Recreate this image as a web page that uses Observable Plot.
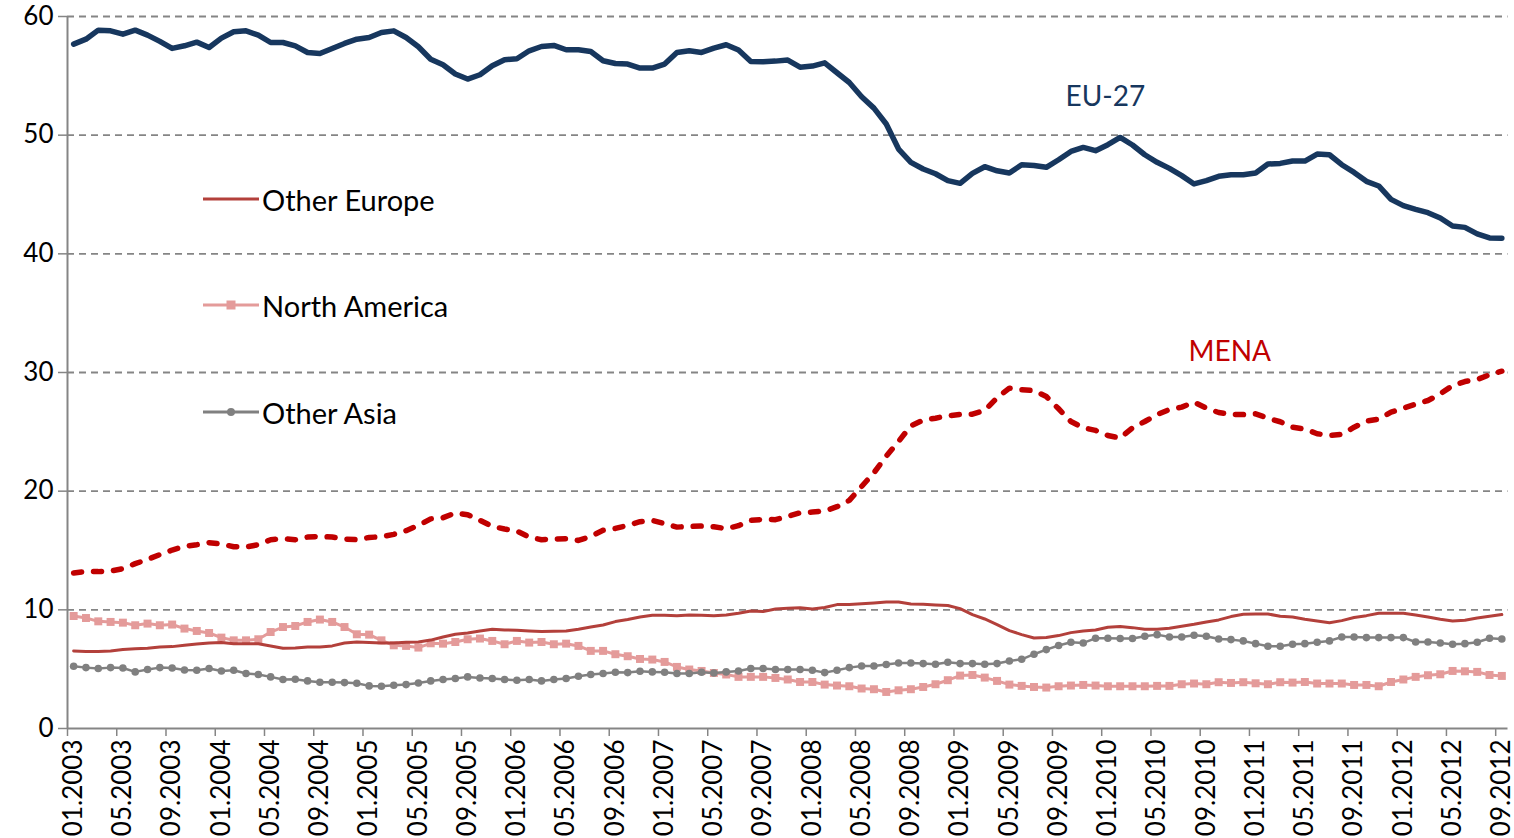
<!DOCTYPE html>
<html><head><meta charset="utf-8">
<script src="https://cdn.jsdelivr.net/npm/d3@7"></script>
<script src="https://cdn.jsdelivr.net/npm/@observablehq/plot@0.6"></script>
<style>
body{margin:0;background:#fff;font-family:Lato,sans-serif}
#wrap{position:relative;width:1514px;height:838px;overflow:hidden}
.leg{position:absolute;left:203px;display:flex;align-items:center;font-size:29px;color:#000;line-height:1}
.leg svg{display:block;margin-right:3px}
</style></head><body><div id="wrap"></div>
<script>
// x tick labels (one every 4 months, month index 0 = 01.2003)
const tickLabels = ["01.2003","05.2003","09.2003","01.2004","05.2004","09.2004","01.2005","05.2005","09.2005","01.2006","05.2006","09.2006","01.2007","05.2007","09.2007","01.2008","05.2008","09.2008","01.2009","05.2009","09.2009","01.2010","05.2010","09.2010","01.2011","05.2011","09.2011","01.2012","05.2012","09.2012"];
const yTicks = [0,10,20,30,40,50,60];

const eu27 = [57.67,58.09,58.85,58.79,58.51,58.85,58.43,57.9,57.31,57.53,57.84,57.39,58.18,58.71,58.79,58.43,57.81,57.81,57.53,56.97,56.88,57.31,57.73,58.09,58.23,58.65,58.79,58.23,57.45,56.4,
55.93,55.15,54.73,55.09,55.85,56.35,56.44,57.11,57.47,57.56,57.2,57.2,57.05,56.27,56.04,55.99,55.65,55.65,55.99,56.97,57.11,56.97,57.33,57.62,57.17,56.21,56.18,56.24,56.33,55.73,
55.82,56.1,55.26,54.44,53.24,52.28,50.94,48.83,47.71,47.15,46.75,46.17,45.94,46.78,47.34,47.0,46.81,47.51,47.45,47.29,47.93,48.63,48.97,48.69,49.2,49.81,49.17,48.35,47.71,47.2,
46.59,45.89,46.17,46.53,46.67,46.67,46.81,47.57,47.62,47.82,47.82,48.41,48.35,47.51,46.86,46.11,45.72,44.59,44.06,43.75,43.47,43.02,42.35,42.23,41.68,41.34,41.31];

const mena = [13.1,13.24,13.22,13.27,13.47,13.89,14.25,14.65,15.04,15.35,15.49,15.66,15.54,15.32,15.29,15.49,15.91,16.0,15.91,16.13,16.19,16.13,15.97,15.91,16.1,16.16,16.36,16.67,17.12,17.66,
17.76,18.16,18.02,17.54,17.03,16.81,16.64,16.13,15.91,15.97,16.0,15.85,16.19,16.7,16.86,17.12,17.43,17.54,17.26,16.97,17.03,17.06,17.0,16.84,17.09,17.54,17.62,17.6,17.87,18.18,
18.24,18.32,18.69,19.22,20.4,21.55,22.95,24.19,25.51,25.98,26.15,26.35,26.46,26.49,26.8,27.87,28.68,28.54,28.48,27.98,26.94,25.87,25.34,25.12,24.69,24.47,25.34,25.87,26.46,26.88,
27.08,27.5,27.0,26.63,26.46,26.46,26.52,26.15,25.85,25.39,25.23,24.84,24.7,24.78,25.39,25.9,26.07,26.66,26.99,27.33,27.64,28.2,28.9,29.24,29.41,29.81,30.11];

const otherEurope = [6.54,6.48,6.48,6.54,6.65,6.73,6.76,6.87,6.9,7.01,7.12,7.21,7.24,7.15,7.15,7.15,6.96,6.76,6.79,6.87,6.87,6.96,7.21,7.29,7.24,7.21,7.21,7.26,7.29,7.45,
7.71,7.94,8.05,8.22,8.36,8.3,8.28,8.22,8.17,8.19,8.22,8.36,8.55,8.72,9.01,9.18,9.4,9.54,9.54,9.51,9.57,9.54,9.51,9.57,9.71,9.9,9.85,10.07,10.13,10.17,
10.07,10.19,10.44,10.44,10.52,10.58,10.66,10.66,10.49,10.47,10.41,10.36,10.1,9.6,9.23,8.76,8.25,7.91,7.63,7.66,7.83,8.08,8.22,8.3,8.53,8.59,8.5,8.36,8.36,8.44,
8.61,8.78,8.98,9.15,9.43,9.62,9.65,9.65,9.46,9.4,9.2,9.06,8.92,9.09,9.35,9.51,9.71,9.71,9.71,9.57,9.4,9.2,9.06,9.12,9.31,9.46,9.6];

const northAmerica = [9.48,9.31,9.03,8.98,8.92,8.7,8.84,8.7,8.76,8.42,8.22,8.05,7.66,7.43,7.43,7.52,8.13,8.55,8.64,8.98,9.18,8.98,8.55,7.94,7.91,7.43,7.01,6.96,6.82,7.18,
7.15,7.29,7.52,7.58,7.38,7.1,7.38,7.24,7.29,7.1,7.15,6.96,6.54,6.54,6.26,6.09,5.86,5.81,5.61,5.19,4.97,4.85,4.68,4.55,4.35,4.35,4.35,4.26,4.13,3.92,
3.92,3.7,3.62,3.56,3.37,3.31,3.08,3.22,3.31,3.5,3.73,4.07,4.46,4.51,4.29,4.01,3.7,3.59,3.5,3.45,3.56,3.62,3.67,3.62,3.56,3.56,3.56,3.56,3.59,3.59,
3.73,3.79,3.73,3.9,3.84,3.9,3.81,3.73,3.9,3.87,3.92,3.79,3.79,3.79,3.67,3.67,3.56,3.92,4.13,4.35,4.49,4.57,4.85,4.82,4.77,4.51,4.43];

const otherAsia = [5.25,5.13,5.05,5.13,5.1,4.77,4.97,5.13,5.1,4.93,4.91,5.05,4.85,4.91,4.63,4.55,4.35,4.13,4.15,4.01,3.9,3.9,3.87,3.81,3.59,3.56,3.65,3.7,3.84,4.01,
4.13,4.21,4.35,4.26,4.21,4.13,4.07,4.13,4.01,4.13,4.21,4.4,4.55,4.63,4.74,4.71,4.82,4.77,4.74,4.63,4.63,4.74,4.68,4.77,4.85,5.05,5.05,4.97,4.97,4.97,
4.91,4.71,4.91,5.13,5.27,5.27,5.39,5.52,5.52,5.47,5.41,5.58,5.47,5.47,5.41,5.47,5.69,5.83,6.26,6.65,6.99,7.27,7.21,7.6,7.6,7.58,7.58,7.77,7.91,7.71,
7.71,7.86,7.77,7.54,7.49,7.38,7.15,6.93,6.93,7.1,7.15,7.27,7.38,7.71,7.71,7.66,7.66,7.66,7.66,7.29,7.29,7.21,7.1,7.15,7.27,7.6,7.54];

// in-chart series labels: [text, month index, value]
const annotations = [
  {text:"EU-27", i:83.8, v:53.2, color:"#17375E"},
  {text:"MENA", i:93.9, v:31.7, color:"#C00000"}
];

const legendItems = [
  {name:"Other Europe", color:"#B3403B", marker:null},
  {name:"North America", color:"#E49B9A", marker:"square"},
  {name:"Other Asia", color:"#808080", marker:"circle"}
];

const toRows = arr => arr.map((v,i)=>({i, v}));
const AX = "#858585";
const labelTicks = tickLabels.map((_,k)=>k*4);
const boundaryTicks = tickLabels.map((_,k)=>k*4-0.5);

const chart = Plot.plot({
  width:1514, height:838,
  marginLeft:67, marginRight:6.5, marginTop:16, marginBottom:110,
  style:{fontFamily:"Lato, sans-serif", fontSize:"26px", color:"#000", background:"#fff", overflow:"visible"},
  x:{domain:[-0.5,116.5], axis:null},
  y:{domain:[0,60], axis:null},
  marks:[
    Plot.gridY({ticks:yTicks.slice(1), stroke:AX, strokeOpacity:1, strokeWidth:1.8, strokeDasharray:"7,5"}),
    Plot.axisY({ticks:yTicks, label:null, tickSize:9, tickPadding:5, stroke:AX, strokeWidth:1.5, fontSize:26, tickFormat:d=>d}),
    Plot.axisX({ticks:boundaryTicks, label:null, tickSize:8, stroke:AX, strokeWidth:1.5, tickFormat:()=>""}),
    Plot.axisX({ticks:labelTicks, label:null, tickSize:0, tickPadding:11, tickRotate:-90, fontSize:26, tickFormat:i=>tickLabels[i/4]}),
    Plot.ruleX([-0.5], {stroke:AX, strokeWidth:2}),
    Plot.ruleY([0], {stroke:AX, strokeWidth:2}),
    Plot.line(toRows(eu27), {x:"i", y:"v", stroke:"#17375E", strokeWidth:5.5, strokeLinejoin:"round", strokeLinecap:"round"}),
    Plot.line(toRows(mena), {x:"i", y:"v", stroke:"#C00000", strokeWidth:5.5, strokeDasharray:"8,12", strokeLinecap:"round", strokeLinejoin:"round"}),
    Plot.line(toRows(northAmerica), {x:"i", y:"v", stroke:"#E49B9A", strokeWidth:3}),
    Plot.dot(toRows(northAmerica), {x:"i", y:"v", symbol:"square", r:4.5, fill:"#E49B9A", stroke:null}),
    Plot.line(toRows(otherEurope), {x:"i", y:"v", stroke:"#B3403B", strokeWidth:3}),
    Plot.line(toRows(otherAsia), {x:"i", y:"v", stroke:"#808080", strokeWidth:2.5}),
    Plot.dot(toRows(otherAsia), {x:"i", y:"v", symbol:"circle", r:3.8, fill:"#808080", stroke:null}),
    Plot.text(annotations, {x:"i", y:"v", text:"text", fill:d=>d.color, fontSize:28})
  ]
});
const wrap = document.getElementById("wrap");
wrap.appendChild(chart);

const legTops = [199, 305, 412];
legendItems.forEach((it,k)=>{
  const d = document.createElement("div");
  d.className = "leg";
  d.style.top = (legTops[k]-16) + "px";
  d.style.height = "32px";
  let mk = "";
  if (it.marker==="square") mk = `<rect x="23.5" y="11.5" width="9" height="9" fill="${it.color}"/>`;
  if (it.marker==="circle") mk = `<circle cx="28" cy="16" r="4" fill="${it.color}"/>`;
  d.innerHTML = `<svg width="56" height="32"><line x1="0" y1="16" x2="56" y2="16" stroke="${it.color}" stroke-width="3"/>${mk}</svg><span>${it.name}</span>`;
  wrap.appendChild(d);
});
</script></body></html>
